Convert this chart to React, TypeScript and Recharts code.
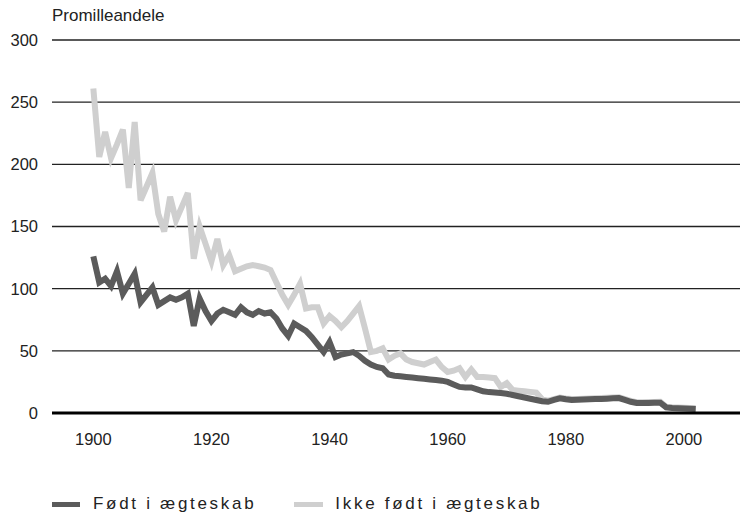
import React from "react";
import { LineChart, Line, XAxis, YAxis, CartesianGrid, Legend } from "recharts";

// år 1900-2002
const years: number[] = Array.from({ length: 103 }, (_, i) => 1900 + i);

// Født i ægteskab (promille)
const bornInWedlock: number[] = [
  126, 105, 108, 102, 114, 96, 104, 112, 89, 95,
  101, 87, 90, 93, 91, 93, 96, 70, 92, 82,
  74, 80, 83, 81, 79, 85, 81, 79, 82, 80,
  81, 76, 68, 62, 72, 69, 66, 61, 55, 49,
  57, 45, 47, 48, 49, 46, 42, 39, 37, 36,
  31, 30, 29.5, 29, 28.5, 28, 27.5, 27, 26.5, 26,
  25, 23, 21, 20.6, 20.6, 19, 17.5, 16.8, 16.5, 16,
  15.5, 14.5, 13.5, 12.5, 11.5, 10.5, 9.5, 9, 10.5, 11.8,
  11, 10.5, 10.6, 10.8, 11, 11.2, 11.3, 11.5, 11.8, 12,
  10.5, 9, 8, 8, 8.1, 8.2, 8.3, 4.5, 4, 3.8,
  3.6, 3.4, 3.2,
];

// Ikke født i ægteskab (promille)
const bornOutOfWedlock: number[] = [
  261, 206, 226, 205, 216, 228, 181, 234, 171, 182,
  193, 160, 146, 174, 155, 166, 177, 124, 150, 136,
  122, 140, 119, 127, 114, 116, 118, 119, 118, 117,
  115, 105, 95, 87, 95, 104, 84, 85, 85, 72,
  78, 74, 69, 74, 80, 86, 68, 49, 50, 52,
  43, 46, 48, 43, 41, 40, 39, 41, 43, 37,
  33, 34, 36, 29, 35, 29, 29, 28.5, 28, 21,
  24, 18.5, 18, 17.5, 17, 16.5, 11, 10, 11.2, 12.5,
  11.7, 11.2, 11.3, 11.5, 11.7, 11.9, 12, 12.2, 12.5, 12.7,
  11.2, 9.7, 8.7, 8.7, 8.8, 8.9, 9, 5, 4.6, 4.4,
  4.2, 4, 3.8,
];

const xTicks: number[] = [1900, 1920, 1940, 1960, 1980, 2000];
const yTicks: number[] = [0, 50, 100, 150, 200, 250, 300];

const data = years.map((year, i) => ({
  year,
  born: bornInWedlock[i],
  notBorn: bornOutOfWedlock[i],
}));

const font = "'Liberation Sans', Arial, sans-serif";

const LegendContent = () => (
  <div
    style={{
      height: 30,
      display: "flex",
      alignItems: "center",
      paddingLeft: 52,
      fontFamily: font,
      fontSize: 17,
      letterSpacing: 2.7,
      color: "#222",
    }}
  >
    <span style={{ display: "inline-block", width: 28, height: 5, background: "#5b5b5b", marginRight: 13 }} />
    <span style={{ marginRight: 38 }}>Født i ægteskab</span>
    <span style={{ display: "inline-block", width: 29, height: 5, background: "#cfcfcf", marginRight: 12 }} />
    <span>Ikke født i ægteskab</span>
  </div>
);

const App: React.FC = () => {
  return (
    <div style={{ position: "absolute", left: 0, top: 0, width: 740, height: 519, background: "#fff" }}>
      <div
        style={{
          position: "absolute",
          left: 52,
          top: 6,
          fontFamily: font,
          fontSize: 17,
          color: "#222",
        }}
      >
        Promilleandele
      </div>
      <LineChart
        width={740}
        height={519}
        data={data}
        margin={{ top: 40, right: 0, bottom: 0, left: 0 }}
      >
        <CartesianGrid horizontal vertical={false} stroke="#222" strokeWidth={1.3} />
        <XAxis
          dataKey="year"
          type="number"
          domain={[1893, 2009.5]}
          ticks={xTicks}
          height={76}
          tickLine={false}
          tickSize={0}
          tickMargin={20}
          axisLine={{ stroke: "#000", strokeWidth: 3 }}
          tick={{ fill: "#222", fontSize: 16.5, fontFamily: font }}
        />
        <YAxis
          domain={[0, 300]}
          ticks={yTicks}
          width={52}
          axisLine={false}
          tickLine={false}
          tickSize={0}
          tickMargin={14}
          tick={{ fill: "#222", fontSize: 16.5, fontFamily: font }}
        />
        <Legend verticalAlign="bottom" content={<LegendContent />} />
        <Line
          dataKey="notBorn"
          name="Ikke født i ægteskab"
          stroke="#cfcfcf"
          strokeWidth={6}
          dot={false}
          activeDot={false}
          isAnimationActive={false}
        />
        <Line
          dataKey="born"
          name="Født i ægteskab"
          stroke="#5b5b5b"
          strokeWidth={6}
          dot={false}
          activeDot={false}
          isAnimationActive={false}
        />
      </LineChart>
    </div>
  );
};

export default App;
